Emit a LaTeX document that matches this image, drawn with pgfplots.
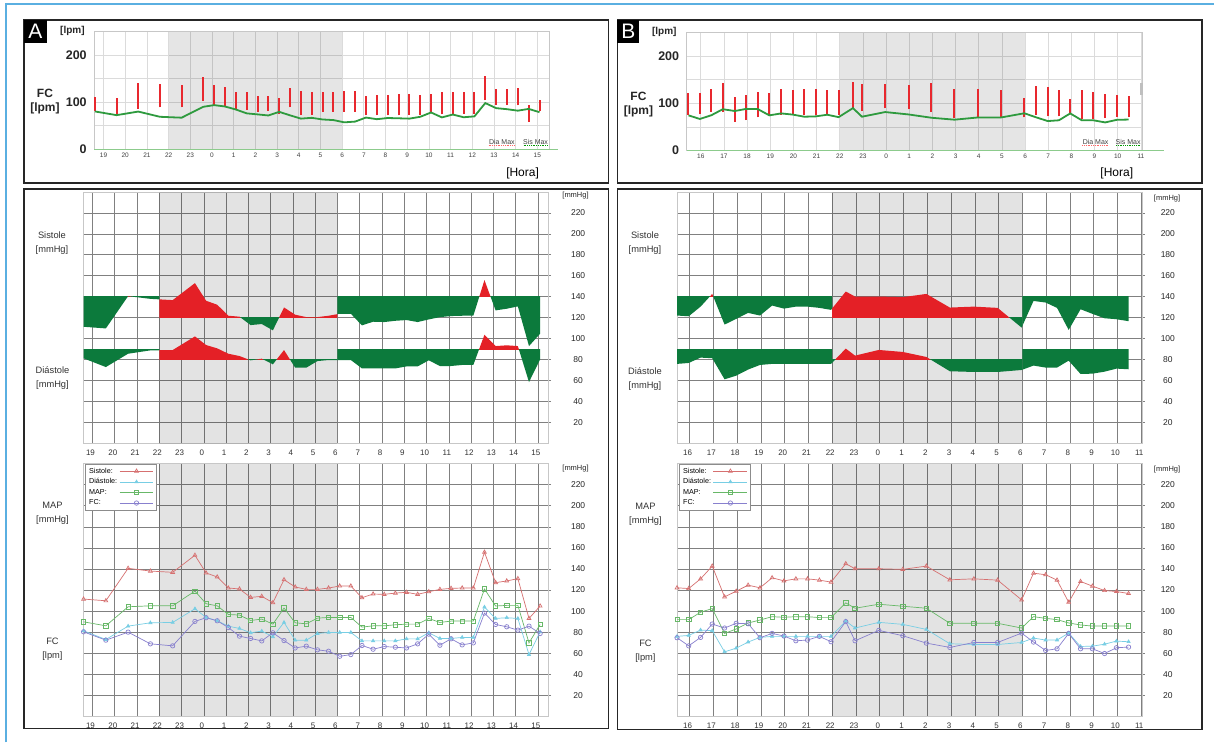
\documentclass[border=0pt]{standalone}
\usepackage{fontspec}
\setmainfont{Liberation Sans}
\usepackage{pgfplots}
\usepackage{pgfplotstable}
\pgfplotsset{compat=1.18}

\definecolor{bpred}{RGB}{228,32,38}
\definecolor{bpgreen}{RGB}{12,122,60}
\definecolor{fcgreen}{RGB}{46,154,62}
\definecolor{barred}{RGB}{232,40,46}
\definecolor{sisc}{RGB}{214,112,112}
\definecolor{diac}{RGB}{120,206,228}
\definecolor{mapc}{RGB}{104,184,104}
\definecolor{fcc}{RGB}{136,128,206}
\definecolor{framec}{RGB}{90,175,225}

\pgfplotstableread{
t sys dia map fc
18.6 111.4 81.3 89.8 80.3
19.6 109.8 73 86 72.4
20.6 140.6 85.7 104.1 80
21.6 138 88.9 105 68.9
22.6 136.8 89.2 105 67
23.6 153 102.2 119 90.2
24.1 136.2 94 107 93.7
24.6 132.4 90.8 105 90.8
25.1 121.9 85.7 96.8 84.4
25.6 121 83.5 96.2 76.2
26.1 113 79.4 91.1 74
26.6 114 81 92.4 71.7
27.1 108 75.6 87.6 79.4
27.6 129.8 89.2 102.9 72
28.1 122.9 72.4 88.9 65
28.6 120.6 72.4 87.9 66.7
29.1 120.6 78.7 93.3 63.2
29.6 121.9 79.7 94 61.9
30.1 123.8 79.7 94 57.1
30.6 123.8 79.7 94 58.7
31.1 112.7 71.7 84.8 67.3
31.6 116.2 71.7 86 63.8
32.1 115.9 71.7 86 66.3
32.6 117.1 71.7 87 65.7
33.1 117.8 73.6 87.6 65
33.6 115.9 73.6 87.6 68.9
34.1 118.4 79.4 93 78.1
34.6 120.6 74 89.2 67.6
35.1 121.6 74 90.5 73.7
35.6 121.9 75 90.5 67.9
36.1 121.9 75 90.5 69.8
36.6 155.9 103.8 121 98.1
37.1 127 93 104.8 87.3
37.6 128.6 93.7 105.4 85.1
38.1 130.8 93 105.4 81.9
38.6 93 58.7 69.8 85.7
39.1 104.8 80.3 87.3 78.7
}\dataA

\pgfplotstableread{
t sys dia map fc
15.47 122.1 76 91.9 74.7
15.96 121.4 76.9 91.9 67
16.46 130.6 82 98.9 75
16.95 142.7 81.4 102.4 87.7
17.47 113.5 61.3 78.8 83.9
17.96 118.9 64.8 83 88.4
18.46 124.6 70.6 88.7 88
18.96 122.1 75 91.5 74.7
19.47 131.6 76 94.7 78.8
19.97 128.7 76 94.1 76.3
20.47 130.6 76 94.7 71.8
20.96 130.6 76 94.7 72.5
21.46 129.4 76 93.8 76
21.95 127.5 76 93.8 70.9
22.57 145 90.6 107.8 90
22.96 140.2 83.9 102.7 71.8
23.96 140.2 89.3 106.5 81.7
24.97 139.6 87.4 104.6 76.6
25.96 142.7 82.6 102.7 69.6
26.95 129.7 69 88.4 65.5
27.96 130.6 68.3 88.4 70.2
28.96 129.4 68.3 88.4 70.2
29.97 110.6 70.2 83.9 79.1
30.47 136 74.4 94.7 70.6
30.98 134.5 72.5 93.1 62.6
31.46 129.4 72.5 91.9 64.2
31.95 108.4 79.1 88.7 78.8
32.45 128.1 66.4 86.8 64.2
32.95 123.7 66.7 85.8 64.2
33.46 119.5 68.6 85.8 59.7
33.96 118.6 71.5 85.8 65.2
34.47 116.7 70.9 85.8 65.8
}\dataB

\newcommand{\band}[7]{%
 \begin{scope}
  \clip (axis cs:#3,#5) rectangle (axis cs:#4,260);
  \addplot[fill=bpred, draw=none, forget plot] table[x=t,y=#2]{#1} \closedcycle;
 \end{scope}
 \begin{scope}
  \clip (axis cs:#3,-20) rectangle (axis cs:#4,#5);
  \addplot[fill=bpgreen, draw=none, forget plot] table[x=t,y=#2]{#1} -- (axis cs:#7,260) -- (axis cs:#6,260) -- cycle;
 \end{scope}}

\pgfplotsset{
 /pgf/number format/assume math mode=true,
 topax/.style={scale only axis, anchor=north west, ymin=0, ymax=250,
   ytick={0,50,...,250}, yticklabels={0,,100,,200,},
   grid=major, major grid style={black!14, line width=0.7pt},
   axis line style={black!22, line width=0.6pt},
   tick style={draw=none},
   yticklabel style={font=\bfseries\fontsize{12.5}{13}\selectfont, text=black!85, xshift=-4pt},
   xticklabel style={font=\fontsize{6.5}{7}\selectfont, text=black!75},
 },
 lowax/.style={scale only axis, anchor=north west, ymin=0, ymax=240,
   ytick={20,40,...,220}, ytick pos=right, yticklabel pos=right,
   grid=major, major grid style={black!50, line width=0.6pt},
   axis line style={black!22, line width=0.6pt},
   xtick style={draw=none}, ytick style={black!50, line width=0.6pt},
   tick align=outside, major tick length=3pt,
   yticklabel style={font=\fontsize{8.5}{9}\selectfont, text=black!85, anchor=center},
   xticklabel style={font=\fontsize{8}{9}\selectfont, text=black!80, xshift=-2pt},
 },
 linech/.style={legend cell align=left, legend plot pos=right,
   legend image code/.code={\draw[##1, mark repeat=2, mark phase=2] plot coordinates {(0pt,0pt) (17pt,0pt) (34pt,0pt)};},
   legend style={at={(0.004,0.998)}, anchor=north west, draw=black!45, line width=0.4pt,
     font=\fontsize{7.2}{7.2}\selectfont, inner xsep=2pt, inner ysep=1.5pt, row sep=0pt},
 },
 xA/.style={xmin=18.58, xmax=39.46, xtick={19,...,39},
   xticklabels={19,20,21,22,23,0,1,2,3,4,5,6,7,8,9,10,11,12,13,14,15}},
 xB/.style={xmin=15.47, xmax=35.03, xtick={16,...,35},
   xticklabels={16,17,18,19,20,21,22,23,0,1,2,3,4,5,6,7,8,9,10,11}},
}

\begin{document}
\begin{tikzpicture}[x=1pt,y=1pt]
\fill[white] (0,0) rectangle (1215,-743);
% outer blue frame
\draw[framec, line width=2pt] (6,-743) -- (6,-4) -- (1215,-4);

% ================= Panel A top =================
\begin{axis}[topax, at={(94.3pt,-31.7pt)}, width=455.2pt, height=117.6pt,
  xmin=18.57, xmax=39.54, xtick={19,...,39},
  xticklabels={19,20,21,22,23,0,1,2,3,4,5,6,7,8,9,10,11,12,13,14,15}]
\fill[black, fill opacity=0.1] (axis cs:22,0) rectangle (axis cs:30,250);
\addplot[draw=none, forget plot, error bars/.cd, y dir=plus, y explicit, error mark=none,
  error bar style={draw=barred, line width=2pt}]
  table[x=t, y=dia, y error expr=\thisrow{sys}-\thisrow{dia}]{\dataA};
\addplot[fcgreen, line width=1.8pt, mark=none] table[x=t,y=fc]{\dataA};
\end{axis}

% ================= Panel B top =================
\begin{axis}[topax, at={(687.2pt,-32.7pt)}, width=456pt, height=118pt,
  xmin=15.39, xmax=35.06, xtick={16,...,35},
  xticklabels={16,17,18,19,20,21,22,23,0,1,2,3,4,5,6,7,8,9,10,11}]
\fill[black, fill opacity=0.1] (axis cs:22,0) rectangle (axis cs:30,250);
\addplot[draw=none, forget plot, error bars/.cd, y dir=plus, y explicit, error mark=none,
  error bar style={draw=barred, line width=2pt}]
  table[x=t, y=dia, y error expr=\thisrow{sys}-\thisrow{dia}]{\dataB};
\addplot[fcgreen, line width=1.8pt, mark=none] table[x=t,y=fc]{\dataB};
\end{axis}

% ================= Panel A band chart =================
\begin{axis}[lowax, xA, at={(83.2pt,-192pt)}, width=465.4pt, height=252pt,
  yticklabel style={xshift=27pt}]
\fill[black, fill opacity=0.11] (axis cs:22,0) rectangle (axis cs:30,240);
\band{\dataA}{sys}{18}{22}{140}{18.6}{39.1}
\band{\dataA}{sys}{22}{30}{120}{18.6}{39.1}
\band{\dataA}{sys}{30}{40}{140}{18.6}{39.1}
\band{\dataA}{dia}{18}{22}{90}{18.6}{39.1}
\band{\dataA}{dia}{22}{30}{80}{18.6}{39.1}
\band{\dataA}{dia}{30}{40}{90}{18.6}{39.1}
\end{axis}

% ================= Panel A line chart =================
\begin{axis}[lowax, xA, linech, at={(83.2pt,-464pt)}, width=465.4pt, height=253pt,
  yticklabel style={xshift=27pt}]
\fill[black, fill opacity=0.11] (axis cs:22,0) rectangle (axis cs:30,240);
\addplot[sisc, line width=0.7pt, mark=triangle, mark size=2.2pt, mark options={solid}] table[x=t,y=sys]{\dataA};
\addlegendentry{Sistole:}
\addplot[diac, line width=0.7pt, mark=triangle*, mark size=1.8pt, mark options={solid}] table[x=t,y=dia]{\dataA};
\addlegendentry{Diástole:}
\addplot[mapc, line width=0.7pt, mark=square, mark size=2.2pt, mark options={solid}] table[x=t,y=map]{\dataA};
\addlegendentry{MAP:}
\addplot[fcc, line width=0.7pt, mark=o, mark size=2.2pt, mark options={solid}] table[x=t,y=fc]{\dataA};
\addlegendentry{FC:}
\end{axis}

% ================= Panel B band chart =================
\begin{axis}[lowax, xB, at={(677.6pt,-192pt)}, width=465.2pt, height=252pt,
  yticklabel style={xshift=23pt}]
\fill[black, fill opacity=0.11] (axis cs:22,0) rectangle (axis cs:30,240);
\band{\dataB}{sys}{15}{22}{140}{15.47}{34.47}
\band{\dataB}{sys}{22}{30}{120}{15.47}{34.47}
\band{\dataB}{sys}{30}{36}{140}{15.47}{34.47}
\band{\dataB}{dia}{15}{22}{90}{15.47}{34.47}
\band{\dataB}{dia}{22}{30}{80}{15.47}{34.47}
\band{\dataB}{dia}{30}{36}{90}{15.47}{34.47}
\end{axis}

% ================= Panel B line chart =================
\begin{axis}[lowax, xB, linech, at={(677.6pt,-464pt)}, width=465.2pt, height=253pt,
  yticklabel style={xshift=23pt}]
\fill[black, fill opacity=0.11] (axis cs:22,0) rectangle (axis cs:30,240);
\addplot[sisc, line width=0.7pt, mark=triangle, mark size=2.2pt, mark options={solid}] table[x=t,y=sys]{\dataB};
\addlegendentry{Sistole:}
\addplot[diac, line width=0.7pt, mark=triangle*, mark size=1.8pt, mark options={solid}] table[x=t,y=dia]{\dataB};
\addlegendentry{Diástole:}
\addplot[mapc, line width=0.7pt, mark=square, mark size=2.2pt, mark options={solid}] table[x=t,y=map]{\dataB};
\addlegendentry{MAP:}
\addplot[fcc, line width=0.7pt, mark=o, mark size=2.2pt, mark options={solid}] table[x=t,y=fc]{\dataB};
\addlegendentry{FC:}
\end{axis}

% ---------- decorations, panel A top ----------
\draw[green!55!black!45, line width=1pt] (94.3,-149.3) -- (558,-149.3);
\node[font=\bfseries\fontsize{10}{10}\selectfont, text=black!85] at (72.5,-30.7) {[lpm]};
\node[font=\bfseries\fontsize{12}{14}\selectfont, text=black!85, align=center] at (45,-101.5) {FC\\ {[lpm]}};
\node[font=\fontsize{12}{12}\selectfont] at (523,-173.5) {[Hora]};
\node[font=\fontsize{7}{7}\selectfont, text=black!75] at (502.3,-141.7) {Dia Max};
\node[font=\fontsize{7}{7}\selectfont, text=black!75] at (536,-141.7) {Sis Max};
\draw[red!60, densely dotted, line width=0.8pt] (489,-145.8) -- (515,-145.8);
\draw[green!60!black, densely dotted, line width=0.8pt] (524,-145.8) -- (549,-145.8);

% ---------- decorations, panel B top ----------
\draw[green!55!black!45, line width=1pt] (687.2,-150.7) -- (1165,-150.7);
\fill[black!25] (1141,-83) rectangle (1144,-95);
\node[font=\bfseries\fontsize{10}{10}\selectfont, text=black!85] at (664.8,-31.7) {[lpm]};
\node[font=\bfseries\fontsize{12}{14}\selectfont, text=black!85, align=center] at (639,-104.5) {FC\\ {[lpm]}};
\node[font=\fontsize{12}{12}\selectfont] at (1117.7,-173.3) {[Hora]};
\node[font=\fontsize{7}{7}\selectfont, text=black!75] at (1096.5,-141.7) {Dia Max};
\node[font=\fontsize{7}{7}\selectfont, text=black!75] at (1129,-141.7) {Sis Max};
\draw[red!60, densely dotted, line width=0.8pt] (1083,-145.8) -- (1109,-145.8);
\draw[green!60!black, densely dotted, line width=0.8pt] (1117,-145.8) -- (1142,-145.8);

% ---------- left labels lower charts ----------
\begin{scope}[every node/.style={font=\fontsize{9.3}{14}\selectfont, text=black!80, align=center}]
\node at (52,-243) {Sistole\\ {[mmHg]}};
\node at (52.5,-378) {Diástole\\ {[mmHg]}};
\node at (52.5,-514) {MAP\\ {[mmHg]}};
\node at (52.5,-650) {FC\\ {[lpm]}};
\node at (645.5,-243.7) {Sistole\\ {[mmHg]}};
\node at (645.5,-379.7) {Diástole\\ {[mmHg]}};
\node at (646,-515) {MAP\\ {[mmHg]}};
\node at (646,-651.3) {FC\\ {[lpm]}};
\end{scope}
\begin{scope}[every node/.style={font=\fontsize{7.5}{8}\selectfont, text=black!85}]
\node at (576,-195.7) {[mmHg]};
\node at (576,-469.3) {[mmHg]};
\node at (1168,-198.3) {[mmHg]};
\node at (1168,-470) {[mmHg]};
\end{scope}

% ---------- boxes ----------
\draw[black!85, line width=1.6pt] (24,-20) rectangle (609,-183);
\draw[black!85, line width=1.6pt] (24,-189) rectangle (609,-729);
\draw[black!85, line width=1.6pt] (618,-20) rectangle (1203,-183);
\draw[black!85, line width=1.6pt] (618,-189) rectangle (1203,-730);
\fill[black] (24,-20) rectangle (47,-43);
\node[text=white, font=\fontsize{21}{21}\selectfont] at (35.5,-31.5) {A};
\fill[black] (618,-20) rectangle (640,-43);
\node[text=white, font=\fontsize{21}{21}\selectfont] at (629,-31.5) {B};
\end{tikzpicture}
\end{document}
